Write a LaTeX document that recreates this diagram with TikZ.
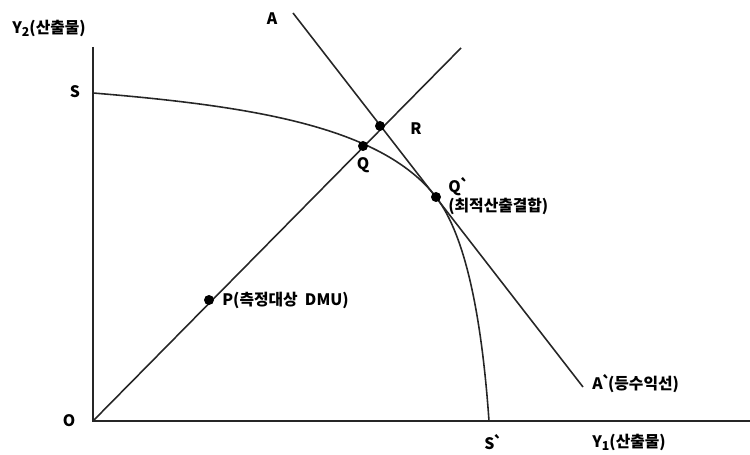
\documentclass[tikz,border=0pt]{standalone}
\usepackage{fontspec}
\setmainfont{Noto Sans CJK KR}[Ligatures=TeXOff]
\newcommand{\sbs}[1]{\raisebox{-0.35ex}{\scriptsize #1}}
\newcommand{\grv}{\kern-0.08em\symbol{96}\kern-0.22em}
\begin{document}
\begin{tikzpicture}[x=0.02cm,y=-0.02cm,
  lbl/.style={font=\bfseries\fontsize{9}{10}\selectfont, inner sep=0pt},
  ln/.style={line width=0.9pt, black!85},
  dot/.style={circle, fill=black, inner sep=0pt, minimum size=0.2cm}]
\useasboundingbox (0,0) rectangle (750,455);
% axes
\coordinate (O) at (93,421);
\coordinate (ytop) at (93,47);
\coordinate (xend) at (750,421);
\draw[ln, line width=1.3pt] (ytop) -- (O) -- (xend);
% ray from origin
\coordinate (rayend) at (461,48);
\draw[ln] (O) -- (rayend);
% isorevenue line
\coordinate (Atop) at (293,13);
\coordinate (Aend) at (583,387);
\draw[ln] (Atop) -- (Aend);
% frontier
\coordinate (S) at (93,93);
\coordinate (Sp) at (489,421);
\coordinate (T) at (436,197);
\draw[ln] (S) .. controls (250,106) and (381,126) .. (T)
              .. controls (466.5,236.5) and (482,321) .. (Sp);
% points
\node[dot] (P) at (209,300) {};
\node[dot] (Q) at (363,146) {};
\node[dot] (R) at (380,126) {};
\node[dot] (Qp) at (T) {};
% labels
\node[lbl, anchor=west] (ly2) at (12,28) {Y\sbs{2}(산출물)};
\node[lbl] (lS) at (75,92) {S};
\node[lbl] (lO) at (69,421) {O};
\node[lbl] (lA) at (272,19) {A};
\node[lbl] (lR) at (416,129) {R};
\node[lbl] (lQ) at (363,165) {Q};
\node[lbl, anchor=west] (lQp) at (448,187) {Q\grv};
\node[lbl, anchor=west] (lQp2) at (448,206) {(최적산출결합)};
\node[lbl, anchor=west] (lP) at (222,300) {P(측정대상\ \ DMU)};
\node[lbl, anchor=west] (lAp) at (592,384) {A\grv(등수익선)};
\node[lbl] (lSp) at (492,442) {S\grv};
\node[lbl, anchor=west] (ly1) at (592,442) {Y\sbs{1}(산출물)};
\end{tikzpicture}
\end{document}
